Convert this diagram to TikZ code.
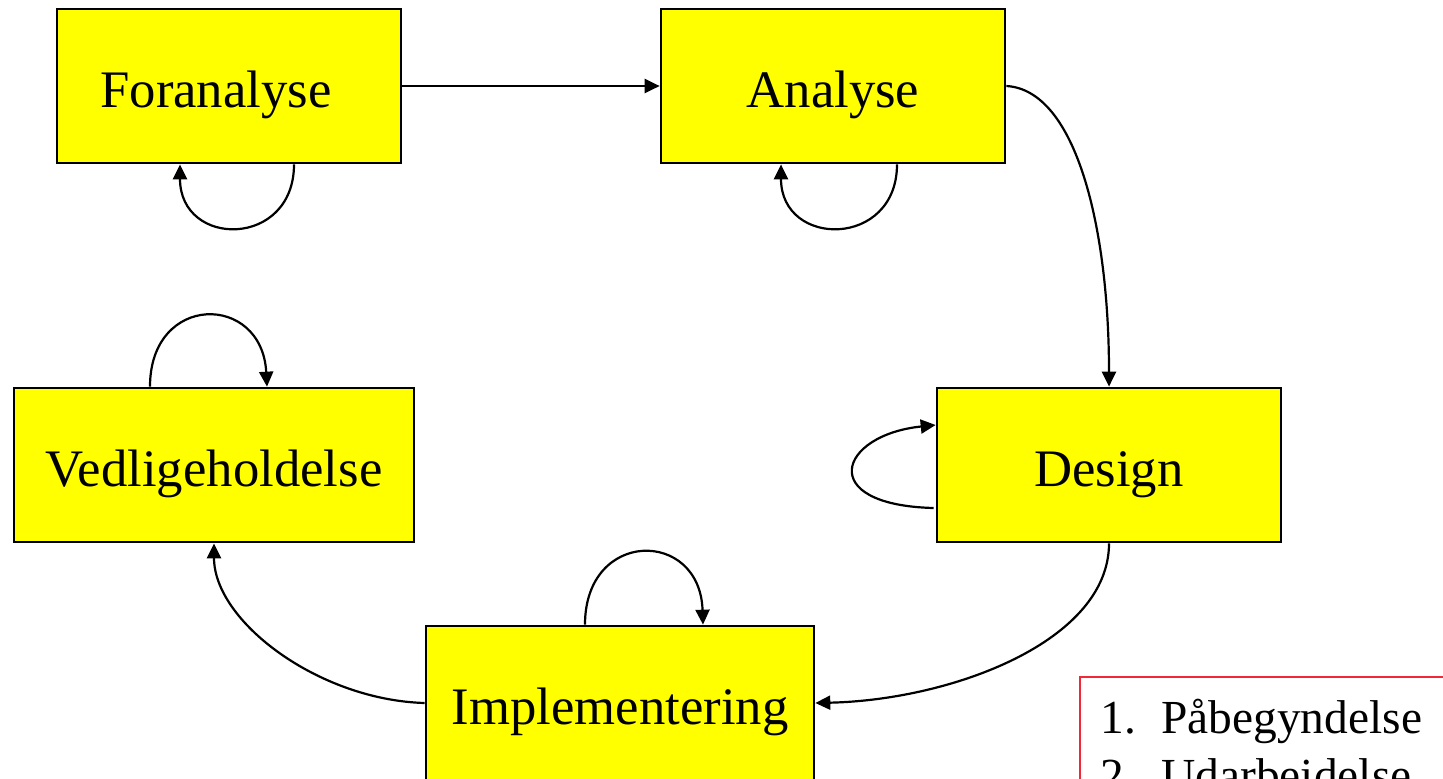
\documentclass[tikz,border=0pt]{standalone}
\usepackage{fontspec}
\setmainfont{Liberation Serif}
\usetikzlibrary{arrows.meta,calc}
\definecolor{boxyellow}{RGB}{255,255,0}
\definecolor{legendred}{RGB}{240,40,55}
\begin{document}
\begin{tikzpicture}[x=0.02cm,y=-0.02cm,
  phase/.style={draw=black,line width=1.6pt,fill=boxyellow,minimum height=3.08cm,
    inner sep=0pt,text height=0.98cm,text depth=0.12cm,font=\fontsize{30}{36}\selectfont},
  flow/.style={line width=1.25pt,-{Triangle[length=8.5pt,width=8pt]}},
  legendbox/.style={draw=legendred,line width=1.4pt,minimum width=10cm,minimum height=4cm,inner sep=0pt},
  legendtext/.style={anchor=base west,inner sep=0pt,font=\fontsize{27}{32}\selectfont}]
\useasboundingbox (0,0) rectangle (1443,778);
\clip (0,0) rectangle (1443,778);

% phase boxes
\node (fa) [phase,minimum width=6.88cm] at (229,86) {Foranalyse\kern0.52cm};
\node (an) [phase,minimum width=6.88cm] at (833,86) {Analyse};
\node (de) [phase,minimum width=6.88cm] at (1109,465) {Design};
\node (ve) [phase,minimum width=8cm] at (214,465) {Vedligeholdelse};
\node (im) [phase,minimum width=7.76cm] at (620,703) {Implementering};

% transitions between phases
\draw[flow] (fa.east) -- (an.west);
\draw[flow] (an.east) .. controls ($(an.east)+(70,4)$) and ($(de.north)+(0,-158)$) .. (de.north);
\draw[flow] (de.south) .. controls ($(de.south)+(0,98)$) and ($(im.east)+(136,-3)$) .. (im.east);
\draw[flow] (im.west) .. controls ($(im.west)+(-106,-3)$) and ($(ve.south)+(0,78)$) .. (ve.south);

% iterations within a phase
\draw[flow] ($(fa.south)+(65,0)$) .. controls ($(fa.south)+(65,84)$) and ($(fa.south)+(-49,84)$) .. ($(fa.south)+(-49,0)$);
\draw[flow] ($(an.south)+(64,0)$) .. controls ($(an.south)+(64,84)$) and ($(an.south)+(-52,84)$) .. ($(an.south)+(-52,0)$);
\draw[flow] ($(ve.north)+(-64,0)$) .. controls ($(ve.north)+(-64,-94)$) and ($(ve.north)+(48,-94)$) .. ($(ve.north)+(53,0)$);
\draw[flow] ($(im.north)+(-35,0)$) .. controls ($(im.north)+(-35,-96)$) and ($(im.north)+(80,-96)$) .. ($(im.north)+(83,0)$);
\draw[flow] ($(de.west)+(-2,43)$) .. controls ($(de.west)+(-121,40)$) and ($(de.west)+(-97,-30)$) .. ($(de.west)+(0,-40)$);

% legend
\node (leg) [legendbox,anchor=north west] at (1079,676) {};
\node (l1) [legendtext] at ($(leg.north west)+(21,57)$) {\makebox[1.22cm][l]{1.}Påbegyndelse};
\node (l2) [legendtext] at ($(leg.north west)+(21,115)$) {\makebox[1.22cm][l]{2.}Udarbeidelse};
\end{tikzpicture}
\end{document}
